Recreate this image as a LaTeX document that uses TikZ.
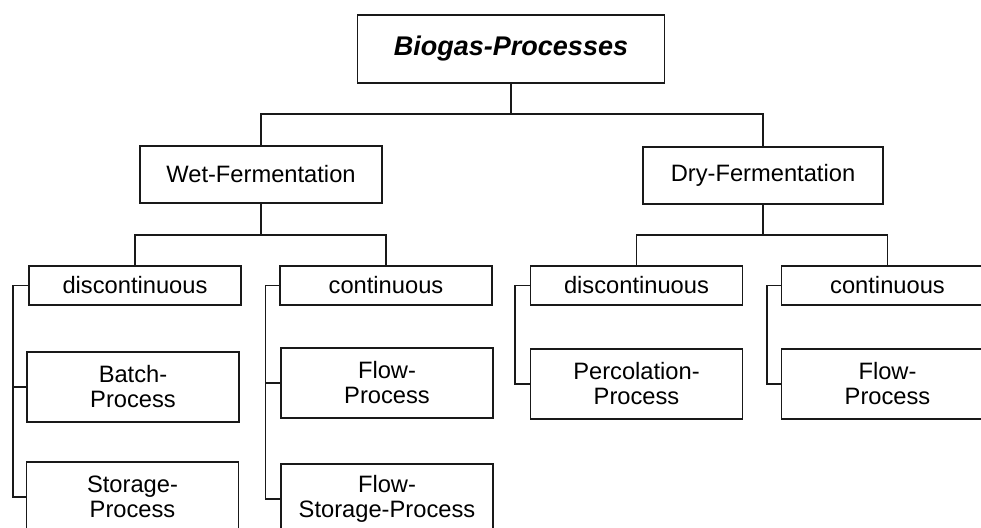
\documentclass[tikz,border=0pt]{standalone}
\usepackage{fontspec}
\setmainfont{Liberation Sans}
\tikzset{procbox/.style={draw=black!90, line width=1.3pt, align=center, inner sep=0pt, minimum width=212pt, font=\fontsize{23.7}{25}\selectfont}}
\tikzset{tree/.style={draw=black!90, line width=1.3pt}}

\begin{document}
\begin{tikzpicture}[x=1pt,y=-1pt]
\useasboundingbox (0,0) rectangle (981,527);
\clip (0,0) rectangle (981,527);
% top levels
\node[procbox, minimum width=307pt, minimum height=68pt, font=\fontsize{27}{30}\selectfont\bfseries\itshape] (bio) at (511,49) {Biogas-Processes};
\node[procbox, minimum width=242pt, minimum height=57pt] (wet) at (261,174.5) {Wet-Fermentation};
\node[procbox, minimum width=240pt, minimum height=57pt] (dry) at (763,175.5) {Dry-Fermentation};
% second row
\node[procbox, minimum height=39pt] (wdis) at (135,285.5) {discontinuous};
\node[procbox, minimum height=39pt] (wcon) at (386,285.5) {continuous};
\node[procbox, minimum height=39pt] (ddis) at (636.5,285.5) {discontinuous};
\node[procbox, minimum height=39pt] (dcon) at (887.5,285.5) {continuous};
% process boxes
\node[procbox, minimum height=70pt] (batch) at (133,387) {Batch-\\Process};
\node[procbox, minimum height=70pt] (stor) at (132.5,497) {Storage-\\Process};
\node[procbox, minimum height=70pt] (wflow) at (387,383) {Flow-\\Process};
\node[procbox, minimum height=70pt] (fstor) at (387,499) {Flow-\\Storage-Process};
\node[procbox, minimum height=70pt] (perc) at (636.5,384) {Percolation-\\Process};
\node[procbox, minimum height=70pt] (dflow) at (887.5,384) {Flow-\\Process};
% junctions
\coordinate (bj) at (511,114);
\coordinate (wj) at (261,235);
\coordinate (dj) at (763,235);
\draw[tree] (bio.south) -- (bj);
\draw[tree] (wet.north) |- (bj) -| (dry.north);
\draw[tree] (wet.south) -- (wj);
\draw[tree] (wdis.north) |- (wj) -| (wcon.north);
\draw[tree] (dry.south) -- (dj);
\draw[tree] (ddis.north) |- (dj) -| (dcon.north);
% brackets on the left
\draw[tree] (wdis.west) -- ++(-15.5,0) |- (stor.west);
\draw[tree] (batch.west) -- ++(-14,0);
\draw[tree] (wcon.west) -- ++(-14,0) |- (fstor.west);
\draw[tree] (wflow.west) -- ++(-15,0);
\draw[tree] (ddis.west) -- ++(-15,0) |- (perc.west);
\draw[tree] (dcon.west) -- ++(-14,0) |- (dflow.west);
\end{tikzpicture}
\end{document}
